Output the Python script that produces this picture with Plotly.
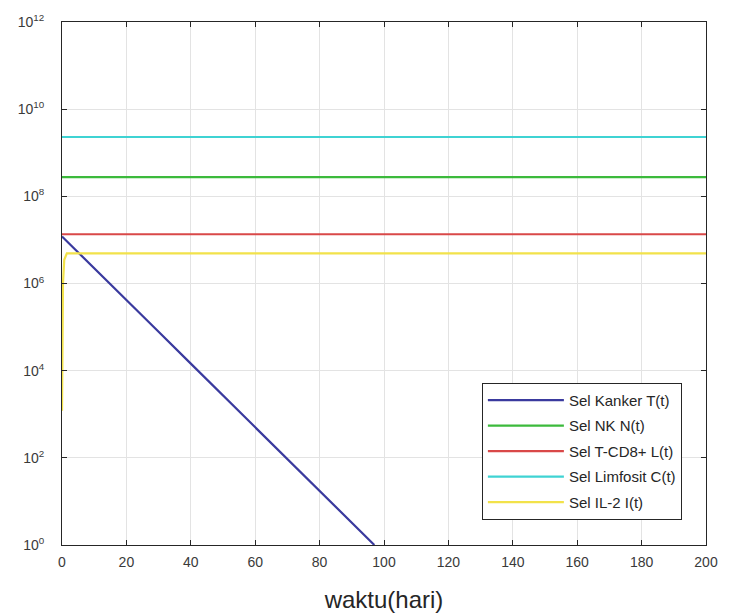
import plotly.graph_objects as go

# --- data ---
t_kanker = [0, 10, 20, 30, 40, 50, 60, 70, 80, 90, 97]
kanker = [1.2e7, 2.2e6, 4.2e5, 7.8e4, 1.45e4, 2.7e3, 500, 93, 17, 3.2, 1.0]

t_nk = [0, 200]
nk = [2.75e8, 2.75e8]

t_cd8 = [0, 200]
cd8 = [1.35e7, 1.35e7]

t_limfosit = [0, 200]
limfosit = [2.3e9, 2.3e9]

t_il2 = [0, 0.1, 0.3, 0.7, 1.5, 200]
il2 = [1.2e3, 5e4, 1e6, 3.5e6, 4.9e6, 4.9e6]

names = ["Sel Kanker T(t)", "Sel NK N(t)", "Sel T-CD8+ L(t)", "Sel Limfosit C(t)", "Sel IL-2 I(t)"]
colors = ["#3a3a9e", "#3cba3c", "#d94848", "#3fd3d3", "#f2e24a"]

x_ticks = list(range(0, 201, 20))
y_tickvals = [1, 1e2, 1e4, 1e6, 1e8, 1e10, 1e12]
y_ticktext = ["10<sup>0</sup>", "10<sup>2</sup>", "10<sup>4</sup>", "10<sup>6</sup>",
              "10<sup>8</sup>", "10<sup>10</sup>", "10<sup>12</sup>"]

series = [(t_kanker, kanker), (t_nk, nk), (t_cd8, cd8), (t_limfosit, limfosit), (t_il2, il2)]

FONT = "Liberation Sans, Arial, sans-serif"

fig = go.Figure()
for i, ((tx, vy), nm, c) in enumerate(zip(series, names, colors)):
    fig.add_trace(go.Scatter(x=tx, y=vy, mode="lines", name=nm, legendgroup=f"g{i}",
                             line=dict(color=c, width=2.2)))

axis_common = dict(
    showline=True, linecolor="#262626", linewidth=1, mirror="ticks",
    ticks="inside", ticklen=5, tickcolor="#262626",
    showgrid=True, gridcolor="#e3e3e3", gridwidth=1,
    zeroline=False, automargin=False,
    tickfont=dict(family=FONT, size=14, color="#3a3a3a"),
)

fig.update_xaxes(range=[0, 200], tickvals=x_ticks, ticktext=[str(v) for v in x_ticks],
                 ticklabelstandoff=4,
                 title=dict(text="waktu(hari)", font=dict(family=FONT, size=24, color="#262626"),
                            standoff=22),
                 **axis_common)
fig.update_yaxes(type="log", range=[0, 12], tickvals=y_tickvals, ticktext=y_ticktext,
                 ticklabelstandoff=14,
                 **axis_common)

fig.update_layout(
    width=738, height=608,
    margin=dict(l=54, r=40, t=14, b=71),
    paper_bgcolor="white", plot_bgcolor="white",
    showlegend=True,
    legend=dict(x=0.652, y=0.31, xanchor="left", yanchor="top",
                bgcolor="white", bordercolor="#262626", borderwidth=1,
                font=dict(family=FONT, size=15, color="#262626"),
                itemwidth=76, tracegroupgap=3),
)

fig.write_html("out.html")
